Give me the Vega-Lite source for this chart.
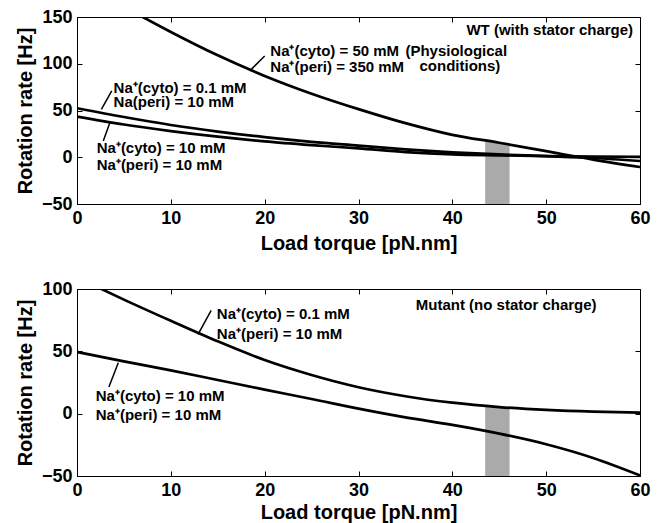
{
  "$schema": "https://vega.github.io/schema/vega-lite/v6.json",
  "autosize": {"type": "pad"},
  "padding": {"left": 14, "top": 7, "right": 5, "bottom": 5},
  "background": "white",
  "bounds": "flush",
  "spacing": 85,
  "config": {
    "view": {"stroke": "black", "strokeWidth": 1},
    "font": "Liberation Sans",
    "axis": {
      "labelFont": "Liberation Sans", "labelFontWeight": "bold", "labelFontSize": 18, "labelColor": "black",
      "titleFont": "Liberation Sans", "titleFontWeight": "bold", "titleFontSize": 20, "titleColor": "black",
      "domainColor": "black", "tickColor": "black", "grid": false, "tickSize": -5, "labelPadding": 10,
      "labelFlush": false, "labelOverlap": false
    }
  },
  "datasets": {
    "topCurves": [
      {"s": "c50", "x": 7, "y": 150}, {"s": "c50", "x": 10, "y": 134}, {"s": "c50", "x": 15, "y": 109}, {"s": "c50", "x": 20, "y": 87},
      {"s": "c50", "x": 25, "y": 68}, {"s": "c50", "x": 30, "y": 51.5}, {"s": "c50", "x": 35, "y": 36.5}, {"s": "c50", "x": 40, "y": 24},
      {"s": "c50", "x": 45, "y": 15.5}, {"s": "c50", "x": 50, "y": 6.5}, {"s": "c50", "x": 55, "y": -2.5}, {"s": "c50", "x": 60, "y": -10.5},
      {"s": "c01", "x": 0, "y": 52.5}, {"s": "c01", "x": 5, "y": 43}, {"s": "c01", "x": 10, "y": 34.5}, {"s": "c01", "x": 15, "y": 27.5},
      {"s": "c01", "x": 20, "y": 21.5}, {"s": "c01", "x": 25, "y": 16.5}, {"s": "c01", "x": 30, "y": 12.5}, {"s": "c01", "x": 35, "y": 8.5},
      {"s": "c01", "x": 40, "y": 5.3}, {"s": "c01", "x": 45, "y": 3}, {"s": "c01", "x": 50, "y": 1.2}, {"s": "c01", "x": 55, "y": -0.8}, {"s": "c01", "x": 60, "y": -4},
      {"s": "c10", "x": 0, "y": 43.5}, {"s": "c10", "x": 5, "y": 35}, {"s": "c10", "x": 10, "y": 28}, {"s": "c10", "x": 15, "y": 22},
      {"s": "c10", "x": 20, "y": 17}, {"s": "c10", "x": 25, "y": 13}, {"s": "c10", "x": 30, "y": 9.5}, {"s": "c10", "x": 35, "y": 5.5},
      {"s": "c10", "x": 40, "y": 3}, {"s": "c10", "x": 45, "y": 2}, {"s": "c10", "x": 50, "y": 1.2}, {"s": "c10", "x": 55, "y": 0.8}, {"s": "c10", "x": 60, "y": 0.5}
    ],
    "botCurves": [
      {"s": "c01", "x": 2.6, "y": 100}, {"s": "c01", "x": 5, "y": 91.5}, {"s": "c01", "x": 10, "y": 74.5}, {"s": "c01", "x": 15, "y": 58},
      {"s": "c01", "x": 20, "y": 43}, {"s": "c01", "x": 25, "y": 31}, {"s": "c01", "x": 30, "y": 21.2}, {"s": "c01", "x": 35, "y": 14},
      {"s": "c01", "x": 40, "y": 8.8}, {"s": "c01", "x": 45, "y": 5.3}, {"s": "c01", "x": 50, "y": 3}, {"s": "c01", "x": 55, "y": 1.6}, {"s": "c01", "x": 60, "y": 0.9},
      {"s": "c10", "x": 0, "y": 49.5}, {"s": "c10", "x": 5, "y": 42}, {"s": "c10", "x": 10, "y": 34.7}, {"s": "c10", "x": 15, "y": 27},
      {"s": "c10", "x": 20, "y": 19.3}, {"s": "c10", "x": 25, "y": 11.8}, {"s": "c10", "x": 30, "y": 4}, {"s": "c10", "x": 35, "y": -3},
      {"s": "c10", "x": 40, "y": -9}, {"s": "c10", "x": 45, "y": -16}, {"s": "c10", "x": 50, "y": -24.5}, {"s": "c10", "x": 55, "y": -35.5}, {"s": "c10", "x": 60, "y": -49.5}
    ],
    "topShade": [{"x": 43.5, "y": 17.4}, {"x": 46.1, "y": 14.5}],
    "botShade": [{"x": 43.5, "y": 5.5}, {"x": 46.1, "y": 4.8}],
    "topLeader": [
      {"x": 18.4, "y": 92.2, "x2": 20.0, "y2": 108.3},
      {"x": 2.6, "y": 51.3, "x2": 3.7, "y2": 70.9},
      {"x": 3.5, "y": 37, "x2": 2.8, "y2": 17.4}
    ],
    "botLeader": [
      {"x": 12.9, "y": 63.6, "x2": 14.3, "y2": 82.9},
      {"x": 4.4, "y": 40.9, "x2": 3.4, "y2": 21.4}
    ],
    "topText": [
      {"x": 41.5, "y": 135.7, "t": "WT (with stator charge)"},
      {"x": 20.6, "y": 113.6, "t": "Na⁺(cyto) = 50 mM"},
      {"x": 20.6, "y": 96.5, "t": "Na⁺(peri) = 350 mM"},
      {"x": 35.0, "y": 113.6, "t": "(Physiological"},
      {"x": 36.5, "y": 97.6, "t": "conditions)"},
      {"x": 3.9, "y": 73.7, "t": "Na⁺(cyto) = 0.1 mM"},
      {"x": 3.9, "y": 59, "t": "Na(peri) = 10 mM"},
      {"x": 2.1, "y": 10.2, "t": "Na⁺(cyto) = 10 mM"},
      {"x": 2.1, "y": -8.3, "t": "Na⁺(peri) = 10 mM"}
    ],
    "botText": [
      {"x": 36.1, "y": 87.2, "t": "Mutant (no stator charge)"},
      {"x": 14.9, "y": 79.7, "t": "Na⁺(cyto) = 0.1 mM"},
      {"x": 14.9, "y": 64.2, "t": "Na⁺(peri) = 10 mM"},
      {"x": 2.0, "y": 14.2, "t": "Na⁺(cyto) = 10 mM"},
      {"x": 2.0, "y": -1.1, "t": "Na⁺(peri) = 10 mM"}
    ]
  },
  "vconcat": [
    {
      "width": 563, "height": 187,
      "resolve": {"axis": {"x": "independent", "y": "independent"}},
      "layer": [
        {
          "data": {"name": "topShade"},
          "mark": {"type": "area", "color": "#aaaaaa"},
          "encoding": {
            "x": {"field": "x", "type": "quantitative", "scale": {"domain": [0, 60], "nice": false},
                  "axis": {"orient": "bottom", "values": [0, 10, 20, 30, 40, 50, 60], "title": "Load torque [pN.nm]", "titlePadding": 6}},
            "y": {"field": "y", "type": "quantitative", "scale": {"domain": [-50, 150], "nice": false},
                  "axis": {"orient": "left", "values": [-50, 0, 50, 100, 150], "title": "Rotation rate [Hz]", "titlePadding": 6}},
            "y2": {"datum": -50}
          }
        },
        {
          "mark": {"type": "rule", "color": "black", "strokeWidth": 1.2},
          "encoding": {"y": {"datum": 0, "axis": null}}
        },
        {
          "data": {"name": "topCurves"},
          "mark": {"type": "line", "color": "black", "strokeWidth": 2.7, "interpolate": "monotone", "clip": true},
          "encoding": {
            "x": {"field": "x", "type": "quantitative", "axis": {"orient": "top", "values": [10, 20, 30, 40, 50], "labels": false, "title": null}},
            "y": {"field": "y", "type": "quantitative", "axis": {"orient": "right", "values": [0, 50, 100], "labels": false, "title": null}},
            "detail": {"field": "s"}
          }
        },
        {
          "data": {"name": "topLeader"},
          "mark": {"type": "rule", "color": "black", "strokeWidth": 1.5},
          "encoding": {
            "x": {"field": "x", "type": "quantitative", "axis": null},
            "y": {"field": "y", "type": "quantitative", "axis": null},
            "x2": {"field": "x2"}, "y2": {"field": "y2"}
          }
        },
        {
          "data": {"name": "topText"},
          "mark": {"type": "text", "align": "left", "baseline": "middle", "fontSize": 15, "fontWeight": "bold", "font": "Liberation Sans", "color": "black"},
          "encoding": {
            "x": {"field": "x", "type": "quantitative", "axis": null},
            "y": {"field": "y", "type": "quantitative", "axis": null},
            "text": {"field": "t"}
          }
        }
      ]
    },
    {
      "width": 563, "height": 187,
      "resolve": {"axis": {"x": "independent", "y": "independent"}},
      "layer": [
        {
          "data": {"name": "botShade"},
          "mark": {"type": "area", "color": "#aaaaaa"},
          "encoding": {
            "x": {"field": "x", "type": "quantitative", "scale": {"domain": [0, 60], "nice": false},
                  "axis": {"orient": "bottom", "values": [0, 10, 20, 30, 40, 50, 60], "title": "Load torque [pN.nm]", "titlePadding": 3}},
            "y": {"field": "y", "type": "quantitative", "scale": {"domain": [-50, 100], "nice": false},
                  "axis": {"orient": "left", "values": [-50, 0, 50, 100], "title": "Rotation rate [Hz]", "titlePadding": 6}},
            "y2": {"datum": -50}
          }
        },
        {
          "mark": {"type": "rule", "color": "black", "strokeWidth": 1.2},
          "encoding": {"y": {"datum": 0, "axis": null}}
        },
        {
          "data": {"name": "botCurves"},
          "mark": {"type": "line", "color": "black", "strokeWidth": 2.7, "interpolate": "monotone", "clip": true},
          "encoding": {
            "x": {"field": "x", "type": "quantitative", "axis": {"orient": "top", "values": [10, 20, 30, 40, 50], "labels": false, "title": null}},
            "y": {"field": "y", "type": "quantitative", "axis": {"orient": "right", "values": [0, 50], "labels": false, "title": null}},
            "detail": {"field": "s"}
          }
        },
        {
          "data": {"name": "botLeader"},
          "mark": {"type": "rule", "color": "black", "strokeWidth": 1.5},
          "encoding": {
            "x": {"field": "x", "type": "quantitative", "axis": null},
            "y": {"field": "y", "type": "quantitative", "axis": null},
            "x2": {"field": "x2"}, "y2": {"field": "y2"}
          }
        },
        {
          "data": {"name": "botText"},
          "mark": {"type": "text", "align": "left", "baseline": "middle", "fontSize": 15, "fontWeight": "bold", "font": "Liberation Sans", "color": "black"},
          "encoding": {
            "x": {"field": "x", "type": "quantitative", "axis": null},
            "y": {"field": "y", "type": "quantitative", "axis": null},
            "text": {"field": "t"}
          }
        }
      ]
    }
  ]
}
